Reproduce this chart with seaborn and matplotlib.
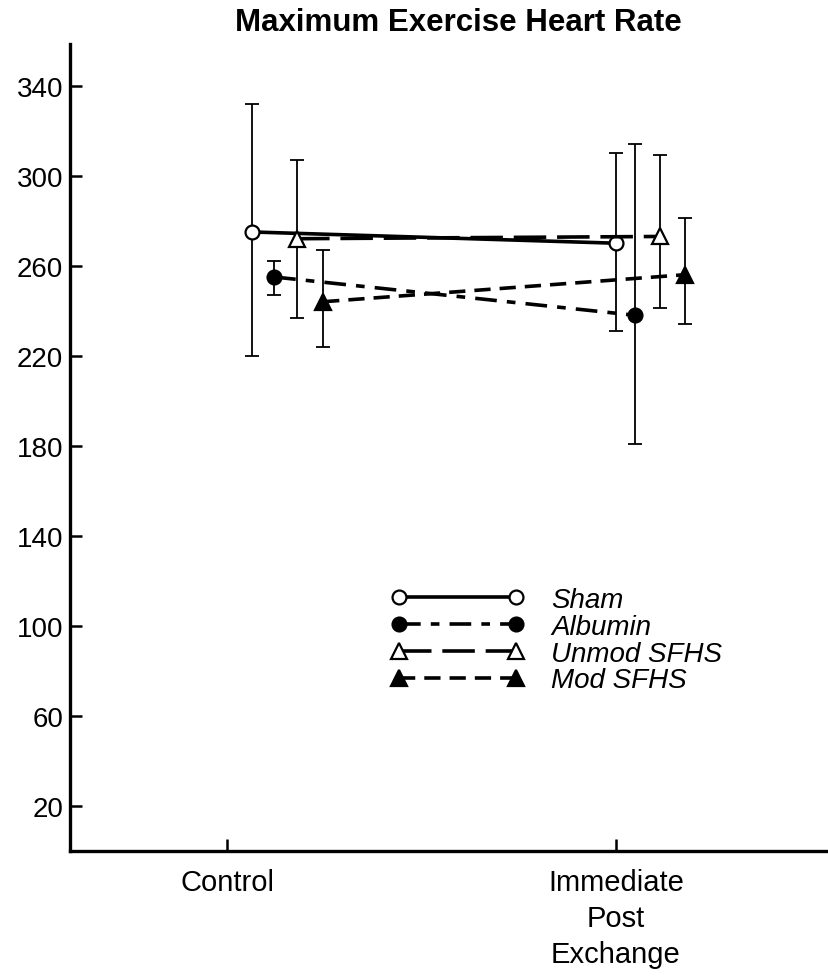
import matplotlib
matplotlib.use('Agg')
import matplotlib.pyplot as plt
import seaborn as sns
import pandas as pd

# ---------------- data ----------------
timepoints = ['Control', 'Immediate\nPost\nExchange']
series_names = ['Sham', 'Albumin', 'Unmod SFHS', 'Mod SFHS']

sham_mean = [275, 270]
sham_upper = [332, 310]
sham_lower = [220, 231]

albumin_mean = [255, 238]
albumin_upper = [262, 314]
albumin_lower = [247, 181]

unmod_mean = [272, 273]
unmod_upper = [307, 309]
unmod_lower = [237, 241]

mod_mean = [244, 256]
mod_upper = [267, 281]
mod_lower = [224, 234]

y_ticks = [20, 60, 100, 140, 180, 220, 260, 300, 340]

# ---------------- styling ----------------
x_offsets = {
    'Sham': [0.064, 0.0],
    'Albumin': [0.121, 0.049],
    'Unmod SFHS': [0.180, 0.113],
    'Mod SFHS': [0.247, 0.177],
}
styles = {
    'Sham': dict(ls='-', marker='o', mfc='white', ms=10),
    'Albumin': dict(ls=(0, (6.0, 2.8, 2.4, 2.8)), marker='o', mfc='black', ms=10),
    'Unmod SFHS': dict(ls=(0, (9.0, 3.0)), marker='^', mfc='white', ms=11),
    'Mod SFHS': dict(ls=(0, (4.5, 2.5)), marker='^', mfc='black', ms=11),
}

sns.set_theme(style='ticks')
plt.rcParams['font.family'] = ['Liberation Sans', 'DejaVu Sans']
plt.rcParams['text.color'] = 'black'
plt.rcParams['xtick.color'] = 'black'
plt.rcParams['ytick.color'] = 'black'

W, H = 829, 979
fig = plt.figure(figsize=(W / 100, H / 100), dpi=100)
ax_left, ax_right, ax_top, ax_bottom = 70, 829, 45, 852
ax = fig.add_axes([ax_left / W, 1 - ax_bottom / H,
                   (ax_right - ax_left) / W, (ax_bottom - ax_top) / H])

data = {
    'Sham': (sham_mean, sham_lower, sham_upper),
    'Albumin': (albumin_mean, albumin_lower, albumin_upper),
    'Unmod SFHS': (unmod_mean, unmod_lower, unmod_upper),
    'Mod SFHS': (mod_mean, mod_lower, mod_upper),
}

handles = []
for name in series_names:
    mean, lower, upper = data[name]
    pos = [i + o for i, o in enumerate(x_offsets[name])]
    df = pd.DataFrame({'x': pos, 'y': mean})
    st = styles[name]
    n_before = len(ax.lines)
    sns.lineplot(data=df, x='x', y='y', ax=ax, color='black', lw=2.6,
                 linestyle=st['ls'], marker=st['marker'], markersize=st['ms'],
                 markerfacecolor=st['mfc'], markeredgecolor='black',
                 markeredgewidth=1.6, errorbar=None, sort=False, zorder=3,
                 label=name, legend=False)
    handles.append(ax.lines[n_before])
    ax.errorbar(pos, mean,
                yerr=[[m - l for m, l in zip(mean, lower)],
                      [u - m for m, u in zip(mean, upper)]],
                fmt='none', ecolor='black', elinewidth=1.3, capsize=4.8,
                capthick=1.3, zorder=1)

ax.set_xlim(-0.404, 1.548)
ax.set_ylim(0, 358.5)
ax.set_xticks([0, 1])
ax.set_xticklabels(timepoints, fontsize=21, linespacing=1.36, color='black')
ax.set_yticks(y_ticks)
ax.set_yticklabels([str(v) for v in y_ticks], fontsize=20, color='black')
ax.tick_params(axis='both', direction='in', length=8.5, width=1.8,
               color='black', labelcolor='black')
ax.tick_params(axis='x', pad=12)
ax.tick_params(axis='y', pad=5)
ax.set_xlabel('')
ax.set_ylabel('')
sns.despine(ax=ax)
for sp in ['left', 'bottom']:
    ax.spines[sp].set_linewidth(2.4)
    ax.spines[sp].set_color('black')
ax.set_facecolor('white')
ax.grid(False)

fs_leg = 20
leg = fig.legend(handles, series_names, loc='upper left',
                 bbox_to_anchor=(391 / W, 1 - 588 / H),
                 bbox_transform=fig.transFigure,
                 numpoints=2, handlelength=4.8, handletextpad=0.96,
                 labelspacing=0.03, borderpad=0, borderaxespad=0,
                 frameon=False, labelcolor='black',
                 prop={'size': fs_leg, 'style': 'italic'})

fig.text(458 / W, 1 - 23 / H, 'Maximum Exercise Heart Rate',
         ha='center', va='center', fontsize=22.5, fontweight='bold',
         color='black')

fig.savefig('out.png', dpi=100, facecolor='white')
